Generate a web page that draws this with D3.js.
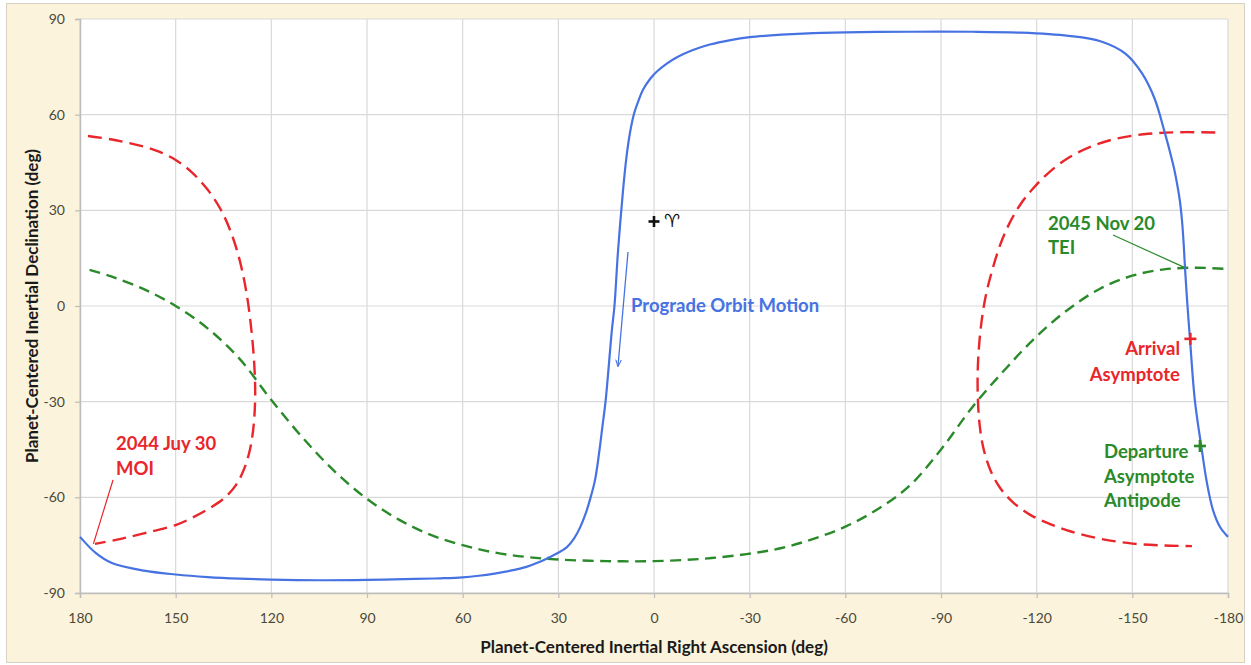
<!DOCTYPE html>
<html>
<head>
<meta charset="utf-8">
<script src="https://cdn.jsdelivr.net/npm/d3@7"></script>
<style>
  html, body { margin: 0; padding: 0; background: #ffffff; }
  svg { display: block; font-family: Lato, "Open Sans", sans-serif; }
</style>
</head>
<body>
<svg id="chart" width="1251" height="665"></svg>
<script>
// Tick values for both axes (degrees)
const raTicks = [180, 150, 120, 90, 60, 30, 0, -30, -60, -90, -120, -150, -180];
const decTicks = [90, 60, 30, 0, -30, -60, -90];

// Spacecraft ground track in planet-centred inertial frame: [RA, Dec]
const orbitTrack = [
  [180, -72.4], [175, -77.5], [170, -80.6], [160, -83], [150, -84.2], [140, -85],
  [130, -85.5], [120, -85.8], [105, -86], [90, -85.9], [75, -85.6], [67, -85.4],
  [60, -85.1], [55, -84.6], [50, -83.9], [45, -83], [40, -81.8], [36, -80.3],
  [33, -78.9], [30, -77.4], [27.3, -75.6], [25, -72.8], [23.2, -69.5],
  [21.5, -65.3], [20.1, -60.8], [18.5, -54.6], [17.2, -46], [16.2, -38],
  [15.2, -30], [13.2, -7.5], [12.4, 0], [11.3, 17], [9.7, 36.4], [8.6, 47],
  [7.5, 54.5], [6.2, 60.5], [5, 64], [3.5, 67.7], [1, 71.5], [-1, 73.6],
  [-4, 76], [-7.2, 78], [-12, 80.2], [-17.5, 82], [-24, 83.4], [-30, 84.3],
  [-40, 85.1], [-50, 85.6], [-65, 85.9], [-80, 86], [-100, 86], [-115, 85.7],
  [-130, 84.7], [-140, 83], [-148, 79], [-153, 73], [-157, 65], [-160, 55],
  [-161.5, 49.5], [-163, 43.5], [-164, 38.5], [-164.9, 33], [-165.6, 26.5],
  [-166.1, 19.5], [-166.5, 12.2], [-167.3, 0], [-168.1, -10.7], [-169.6, -29.5],
  [-171.8, -45.2], [-173.4, -55.5], [-175.3, -64], [-177.5, -69.3], [-180, -72.4]
];

// Arrival asymptote locus, first branch (MOI side)
const arrivalWest = [
  [177.5, 53.3], [170, 52.2], [160, 50], [155, 48.3], [150, 45.8], [145, 42],
  [140, 36.5], [136, 30.5], [133, 24], [130.5, 16.5], [128.7, 9], [127.3, 1],
  [126.2, -8], [125.5, -16], [125.1, -24], [125.1, -30], [125.6, -38],
  [126.7, -45], [128.5, -51], [131, -56], [134.5, -60], [139.5, -63.5],
  [145, -66.5], [150, -68.7], [160, -71.3], [168, -73.2], [175.3, -74.6]
];

// Arrival asymptote locus, second branch
const arrivalEast = [
  [-176, 54.4], [-165, 54.5], [-155, 54], [-145, 52.5], [-137, 50], [-130, 46.5],
  [-124, 42], [-119, 37], [-115, 32], [-111.5, 26], [-108.5, 19], [-106, 11],
  [-104, 3], [-102.7, -5], [-101.9, -13], [-101.5, -21], [-101.6, -30],
  [-102.2, -38], [-103.4, -45], [-105.5, -51.5], [-108.5, -57], [-112.5, -61.5],
  [-118, -65.5], [-124, -68.3], [-131, -70.8], [-140, -73], [-150, -74.5],
  [-160, -75.1], [-168.7, -75.3]
];

// Departure asymptote antipode locus
const departureTrack = [
  [177, 11.3], [170, 9.2], [160, 5.3], [150, 0], [140, -7], [130, -16.5],
  [120, -29.5], [110, -41.5], [100, -52], [90, -60.5], [80, -67], [70, -71.8],
  [60, -75], [50, -77.3], [40, -78.7], [30, -79.5], [15, -80], [0, -80],
  [-15, -79.3], [-29, -77.8], [-40, -75.9], [-50, -73], [-60, -69.2],
  [-70, -63.8], [-80, -56.5], [-90, -45], [-100, -31.5], [-110, -20],
  [-120, -9.5], [-130, -1], [-140, 5.5], [-150, 9.5], [-160, 11.5],
  [-170, 12], [-180, 11.6]
];

// Marked points
const vernalEquinox = [0, 26.5];
const arrivalAsymptote = [-168.2, -10.3];
const departureAntipode = [-171.2, -43.9];
const moiPoint = [175.8, -74.6];
const teiPoint = [-166.3, 12.1];

const svg = d3.select("#chart");
const W = 1251, H = 665;
const plot = { left: 80, right: 1228, top: 19, bottom: 593 };

const x = d3.scaleLinear().domain([180, -180]).range([plot.left, plot.right]);
const y = d3.scaleLinear().domain([-90, 90]).range([plot.bottom, plot.top]);

const BLUE = "#4672e2", RED = "#e8262b", GREEN = "#2a8a2a", TICK = "#4a4a3a";

// Cream frame
svg.append("rect")
  .attr("x", 6.5).attr("y", 3.5).attr("width", W - 13).attr("height", H - 6)
  .attr("fill", "#fcf3dc").attr("stroke", "#d8d2c4").attr("stroke-width", 1);

// Plot area
svg.append("rect")
  .attr("x", plot.left).attr("y", plot.top)
  .attr("width", plot.right - plot.left).attr("height", plot.bottom - plot.top)
  .attr("fill", "#ffffff");

// Gridlines
const grid = svg.append("g").attr("stroke", "#d9d9d9").attr("stroke-width", 1.2);
grid.selectAll("line.v").data(raTicks).join("line")
  .attr("x1", d => x(d)).attr("x2", d => x(d))
  .attr("y1", plot.top).attr("y2", plot.bottom);
grid.selectAll("line.h").data(decTicks).join("line")
  .attr("x1", plot.left).attr("x2", plot.right)
  .attr("y1", d => y(d)).attr("y2", d => y(d));

// Axes (plain hyphen-minus in labels)
const fmt = d => String(d);
const xAxis = d3.axisBottom(x).tickValues(raTicks).tickSize(5).tickPadding(15).tickFormat(fmt);
const yAxis = d3.axisLeft(y).tickValues(decTicks).tickSize(5).tickPadding(10).tickFormat(fmt);

const gx = svg.append("g").attr("transform", `translate(0,${plot.bottom})`).call(xAxis);
const gy = svg.append("g").attr("transform", `translate(${plot.left},0)`).call(yAxis);
[gx, gy].forEach(g => {
  g.select(".domain").attr("stroke", "#bdbdbd").attr("stroke-width", 1.5);
  g.selectAll(".tick line").attr("stroke", "#bdbdbd").attr("stroke-width", 1.2);
  g.selectAll(".tick text").attr("fill", TICK).style("font-size", "14px")
    .style("font-family", "Lato, sans-serif");
});

// Axis titles
svg.append("text")
  .attr("x", (plot.left + plot.right) / 2).attr("y", 653)
  .attr("text-anchor", "middle").attr("fill", "#1a1a1a")
  .style("font-size", "17px").style("font-weight", "bold")
  .text("Planet-Centered Inertial Right Ascension (deg)");
svg.append("text")
  .attr("transform", `translate(38,${(plot.top + plot.bottom) / 2}) rotate(-90)`)
  .attr("text-anchor", "middle").attr("fill", "#1a1a1a")
  .style("font-size", "17px").style("font-weight", "bold")
  .text("Planet-Centered Inertial Declination (deg)");

const line = d3.line().x(d => x(d[0])).y(d => y(d[1])).curve(d3.curveCatmullRom.alpha(0.5));

const curves = svg.append("g").attr("fill", "none");
curves.append("path").datum(departureTrack).attr("d", line)
  .attr("stroke", GREEN).attr("stroke-width", 2.4).attr("stroke-dasharray", "11,6.5");
curves.append("path").datum(arrivalWest).attr("d", line)
  .attr("stroke", RED).attr("stroke-width", 2.4).attr("stroke-dasharray", "14,7");
curves.append("path").datum(arrivalEast).attr("d", line)
  .attr("stroke", RED).attr("stroke-width", 2.4).attr("stroke-dasharray", "14,7");
curves.append("path").datum(orbitTrack).attr("d", line)
  .attr("stroke", BLUE).attr("stroke-width", 2.2);

// Plus-sign markers
function cross(p, color, size) {
  const g = svg.append("g").attr("stroke", color).attr("stroke-width", 2.6);
  g.append("line").attr("x1", x(p[0]) - size).attr("x2", x(p[0]) + size)
    .attr("y1", y(p[1])).attr("y2", y(p[1]));
  g.append("line").attr("x1", x(p[0])).attr("x2", x(p[0]))
    .attr("y1", y(p[1]) - size).attr("y2", y(p[1]) + size);
}
cross(vernalEquinox, "#111111", 5.5);
cross(arrivalAsymptote, RED, 6);
cross(departureAntipode, GREEN, 6);

// Aries symbol next to the vernal equinox marker
svg.append("text")
  .attr("x", x(vernalEquinox[0]) + 10).attr("y", y(vernalEquinox[1]) + 6)
  .attr("fill", "#111111").style("font-size", "18px")
  .style("font-family", "DejaVu Sans, sans-serif")
  .text("\u2648\uFE0E");

// Direction-of-motion arrow
svg.append("defs").append("marker")
  .attr("id", "arrowhead").attr("viewBox", "0 0 10 10").attr("refX", 9).attr("refY", 5)
  .attr("markerWidth", 7).attr("markerHeight", 9).attr("orient", "auto")
  .attr("markerUnits", "userSpaceOnUse")
  .append("path").attr("d", "M0,1 L10,5 L0,9").attr("fill", "none")
  .attr("stroke", BLUE).attr("stroke-width", 1.5);
svg.append("line")
  .attr("x1", 628).attr("y1", 252).attr("x2", 618).attr("y2", 366)
  .attr("stroke", BLUE).attr("stroke-width", 1.3).attr("marker-end", "url(#arrowhead)");

// Labels
function label(lines, px, py, color, anchor, lh) {
  const t = svg.append("text").attr("fill", color).attr("text-anchor", anchor || "start")
    .style("font-size", "18.5px").style("font-weight", "bold");
  lines.forEach((s, i) => t.append("tspan").attr("x", px).attr("y", py + i * (lh || 25)).text(s));
}
label(["Prograde Orbit Motion"], 631, 312, BLUE);
label(["2044 Juy 30", "MOI"], 116, 450, RED, "start", 25);
label(["2045 Nov 20", "TEI"], 1048, 230, GREEN, "start", 23.5);
label(["Arrival", "Asymptote"], 1180, 355, RED, "end", 25.5);
label(["Departure", "Asymptote", "Antipode"], 1104, 458, GREEN, "start", 24.5);

// Leader lines
svg.append("line").attr("x1", 113).attr("y1", 480)
  .attr("x2", x(moiPoint[0])).attr("y2", y(moiPoint[1]))
  .attr("stroke", RED).attr("stroke-width", 1.2);
svg.append("line").attr("x1", 1113).attr("y1", 235)
  .attr("x2", x(teiPoint[0])).attr("y2", y(teiPoint[1]))
  .attr("stroke", GREEN).attr("stroke-width", 1.2);
</script>
</body>
</html>
